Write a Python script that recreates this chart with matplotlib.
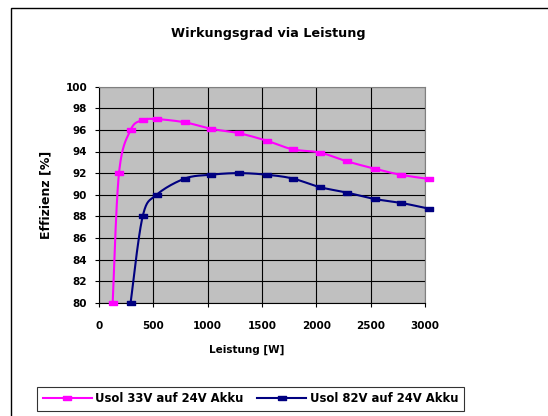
import matplotlib
matplotlib.use("Agg")
import matplotlib.pyplot as plt
import numpy as np
from matplotlib.patches import Rectangle
from matplotlib.lines import Line2D

plt.rcParams['font.family'] = ['DejaVu Sans']
plt.rcParams['font.weight'] = 'bold'

# data
power_33v = [126, 184, 291, 402, 531, 791, 1030, 1285, 1543, 1782, 2033, 2279, 2539, 2775, 3039]
eff_33v = [80.0, 92.0, 96.0, 96.9, 97.0, 96.7, 96.1, 95.7, 95.0, 94.2, 93.9, 93.1, 92.4, 91.85, 91.45]

power_82v = [291, 402, 531, 791, 1030, 1285, 1543, 1782, 2033, 2279, 2539, 2775, 3039]
eff_82v = [80.0, 88.0, 90.0, 91.5, 91.85, 92.0, 91.85, 91.5, 90.7, 90.2, 89.6, 89.25, 88.7]

x_ticks = [0, 500, 1000, 1500, 2000, 2500, 3000]
y_ticks = [80, 82, 84, 86, 88, 90, 92, 94, 96, 98, 100]

pink = '#FF00FF'
navy = '#000080'

# flat rectangular marker like the Excel one
rect_marker = [(-1, -0.62), (1, -0.62), (1, 0.62), (-1, 0.62), (-1, -0.62)]


def smooth(xs, ys, n=20):
    # Catmull-Rom, roughly what Excel's "smoothed line" does
    p = np.column_stack([xs, ys]).astype(float)
    sx, sy = 0.1087, 10.8  # pixel-ish scaling so the curve shape is isotropic
    p = p * [sx, sy]
    p = np.vstack([p[0], p, p[-1]])
    out = []
    for i in range(1, len(p) - 2):
        p0, p1, p2, p3 = p[i - 1], p[i], p[i + 1], p[i + 2]
        t = np.linspace(0, 1, n)[:, None]
        c = 0.5 * ((2 * p1) + (-p0 + p2) * t + (2 * p0 - 5 * p1 + 4 * p2 - p3) * t ** 2
                   + (-p0 + 3 * p1 - 3 * p2 + p3) * t ** 3)
        out.append(c)
    c = np.vstack(out) / [sx, sy]
    return c[:, 0], c[:, 1]


fig = plt.figure(figsize=(5.48, 4.16), dpi=100)
# outer chart frame (right/bottom edges run off the picture)
fig.patches.append(Rectangle((11 / 548, -0.1), 1.2, 1 - 8 / 416 + 0.1, transform=fig.transFigure,
                             fill=False, edgecolor='black', linewidth=1.0))

ax = fig.add_axes([99 / 548, 1 - 302.7 / 416, 326 / 548, 216 / 416])
ax.set_facecolor('#C0C0C0')

for xs, ys, col in [(power_33v, eff_33v, pink), (power_82v, eff_82v, navy)]:
    sx_, sy_ = smooth(xs, ys)
    ax.plot(sx_, sy_, color=col, linewidth=1.5, clip_on=False, zorder=3)
    ax.plot(xs, ys, linestyle='none', marker=rect_marker, markersize=5.8, color=col,
            clip_on=False, zorder=4)

ax.set_xlim(0, 3000)
ax.set_ylim(80, 100)
ax.set_xticks(x_ticks)
ax.set_yticks(y_ticks)
ax.grid(True, color='black', linewidth=0.8)
ax.set_axisbelow(True)
ax.tick_params(axis='x', direction='out', length=3, pad=10, labelsize=7.5, width=0.8)
ax.tick_params(axis='y', direction='out', length=3, pad=5.5, labelsize=7.5, width=0.8)
for lab in ax.get_xticklabels() + ax.get_yticklabels():
    lab.set_fontweight('bold')
for s in ['left', 'bottom']:
    ax.spines[s].set_color('black')
for s in ['top', 'right']:
    ax.spines[s].set_color('#808080')

fig.text(268 / 548, 1 - 33 / 416, 'Wirkungsgrad via Leistung', ha='center', va='center',
         fontsize=9.2, fontweight='bold')
fig.text(247 / 548, 1 - 350 / 416, 'Leistung [W]', ha='center', va='center',
         fontsize=7.5, fontweight='bold')
fig.text(46 / 548, 1 - 195 / 416, 'Effizienz [%]', ha='center', va='center', rotation=90,
         fontsize=9, fontweight='bold')

handles = [
    Line2D([], [], color=pink, linewidth=1.5, marker=rect_marker, markersize=5.8),
    Line2D([], [], color=navy, linewidth=1.5, marker=rect_marker, markersize=5.8),
]
leg = fig.legend(handles, ['Usol 33V auf 24V Akku', 'Usol 82V auf 24V Akku'],
                 loc='center', bbox_to_anchor=(250.5 / 548, 1 - 399 / 416), ncol=2,
                 frameon=True, fancybox=False, edgecolor='black',
                 handlelength=4.2, handletextpad=0.3, columnspacing=1.2, borderpad=0.45,
                 prop={'weight': 'bold', 'size': 8.4})
leg.get_frame().set_linewidth(0.8)

fig.savefig('out.png', dpi=100)
